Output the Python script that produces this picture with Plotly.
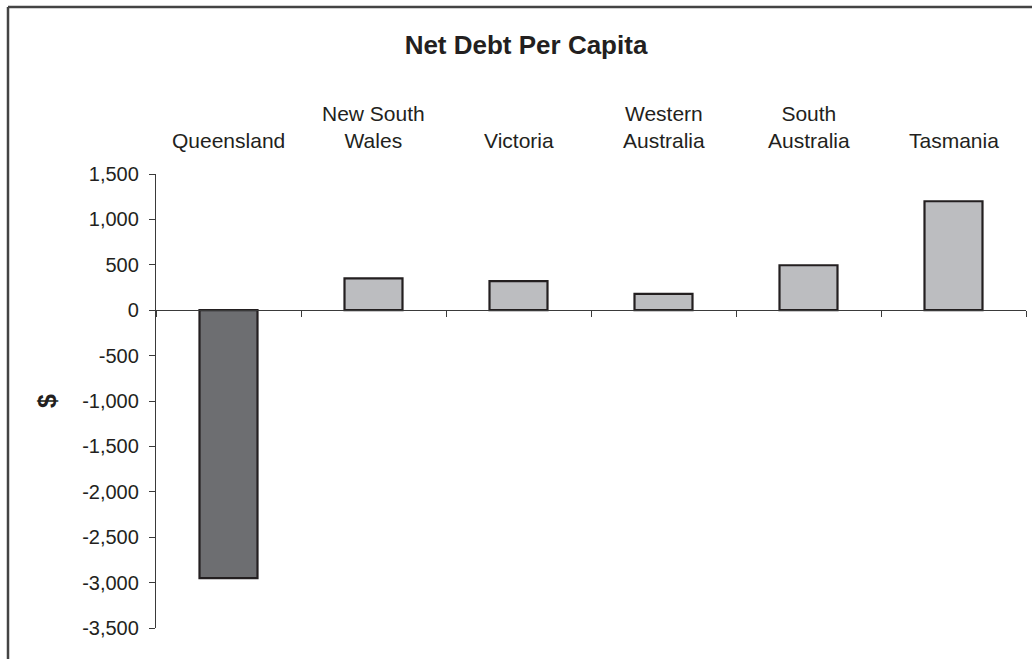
import plotly.graph_objects as go

# Net debt per capita by state ($)
states = ["Queensland", "New South Wales", "Victoria", "Western Australia",
          "South Australia", "Tasmania"]
state_labels = ["Queensland", "New South<br>Wales", "Victoria", "Western<br>Australia",
                "South<br>Australia", "Tasmania"]
net_debt = [-2950, 350, 320, 180, 495, 1200]
bar_colors = ["#6d6e71", "#bcbdc0", "#bcbdc0", "#bcbdc0", "#bcbdc0", "#bcbdc0"]

y_ticks = [1500, 1000, 500, 0, -500, -1000, -1500, -2000, -2500, -3000, -3500]
y_tick_text = ["1,500", "1,000", "500", "0", "-500", "-1,000", "-1,500",
               "-2,000", "-2,500", "-3,000", "-3,500"]

FONT = "Arial, 'Liberation Sans', sans-serif"
INK = "#231f20"
AXIS = "#3a3a3a"

fig = go.Figure(go.Bar(
    x=states,
    y=net_debt,
    width=0.4,
    marker=dict(color=bar_colors, line=dict(color=INK, width=2.2)),
))

y_min, y_max = -3500, 1500

fig.update_layout(
    width=1032, height=659,
    margin=dict(l=156, r=6, t=174, b=31),
    paper_bgcolor="white", plot_bgcolor="white",
    showlegend=False,
    font=dict(family=FONT, size=20, color=INK),
    title=dict(text="<b>Net Debt Per Capita</b>", x=526 / 1032, xref="container", xanchor="center",
               y=1 - 45 / 659, yref="container", yanchor="middle",
               font=dict(family=FONT, size=26, color=INK)),
    xaxis=dict(
        type="category",
        anchor="free",
        position=(0 - y_min) / (y_max - y_min),
        showline=True, linecolor=AXIS, linewidth=1.3,
        ticks="outside", tickson="boundaries", ticklen=6, tickwidth=1.3, tickcolor=AXIS,
        showticklabels=False, showgrid=False, zeroline=False,
    ),
    yaxis=dict(
        range=[y_min, y_max],
        tickvals=y_ticks, ticktext=y_tick_text,
        showline=True, linecolor=AXIS, linewidth=1.3,
        ticks="outside", ticklen=6, tickwidth=1.3, tickcolor=AXIS,
        ticklabelstandoff=6,
        showgrid=False, zeroline=False,
        tickfont=dict(family=FONT, size=20, color=INK),
        title=dict(text="<b>$</b>", standoff=18, font=dict(family=FONT, size=25, color=INK)),
    ),
)

# Category labels above the plotting area
for cat, lab in zip(states, state_labels):
    fig.add_annotation(x=cat, xref="x", y=1, yref="paper", yanchor="bottom",
                       text=lab, showarrow=False, yshift=20,
                       font=dict(family=FONT, size=21, color=INK))

# Chart frame (top and left edges)
fx0 = (8 - 156) / 870
fy_top = 1 + (174 - 7) / 454
fig.add_shape(type="line", xref="paper", yref="paper", x0=fx0, x1=1.2, y0=fy_top, y1=fy_top,
              line=dict(color="#444444", width=2.5))
fig.add_shape(type="line", xref="paper", yref="paper", x0=fx0, x1=fx0, y0=fy_top, y1=-0.2,
              line=dict(color="#444444", width=2.5))

fig.write_html("out.html")
